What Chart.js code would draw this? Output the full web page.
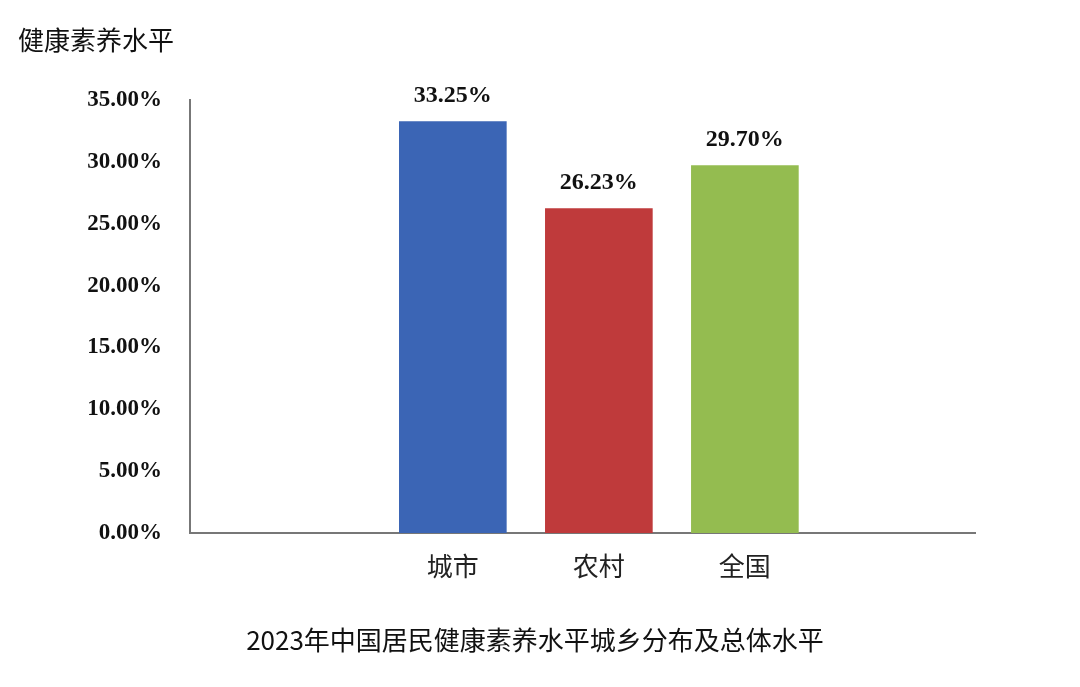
<!DOCTYPE html>
<html>
<head>
<meta charset="utf-8">
<script src="https://cdn.jsdelivr.net/npm/chart.js@4"></script>
<style>
  body { margin: 0; background: #fff; }
</style>
</head>
<body>
<canvas id="chart" width="1080" height="687"></canvas>
<script>
const categories = ["城市", "农村", "全国"];
const values = [33.25, 26.23, 29.70];
const barColors = ["#3b65b5", "#bf3a3b", "#94bc50"];
const yTicks = [0, 5, 10, 15, 20, 25, 30, 35];
const yTitle = "健康素养水平";
const chartTitle = "2023年中国居民健康素养水平城乡分布及总体水平";

const textPlugin = {
  id: "texts",
  afterDatasetsDraw(chart) {
    const ctx = chart.ctx;
    const meta = chart.getDatasetMeta(0);
    ctx.save();
    ctx.fillStyle = "#111";
    ctx.font = "bold 24px 'Liberation Serif', serif";
    ctx.textAlign = "center";
    ctx.textBaseline = "bottom";
    meta.data.forEach((bar, i) => {
      ctx.fillText(values[i].toFixed(2) + "%", bar.x, bar.y - 14);
    });
    ctx.font = "26px 'Noto Sans CJK SC', sans-serif";
    ctx.textAlign = "left";
    ctx.textBaseline = "middle";
    ctx.fillText(yTitle, 18, 40);
    ctx.textAlign = "center";
    ctx.fillText(chartTitle, 535, 640);
    ctx.restore();
  }
};

new Chart(document.getElementById("chart"), {
  type: "bar",
  data: {
    datasets: [{
      data: values.map((v, i) => ({ x: i + 1, y: v })),
      backgroundColor: barColors,
      borderWidth: 0,
      barThickness: 107
    }]
  },
  options: {
    responsive: false,
    animation: false,
    layout: { padding: { top: 100, bottom: 0, right: 105, left: 0 } },
    plugins: { legend: { display: false }, tooltip: { enabled: false } },
    scales: {
      x: {
        type: "linear",
        min: 0.096,
        max: 3.68,
        afterBuildTicks: axis => { axis.ticks = [1, 2, 3].map(v => ({ value: v })); },
        afterFit: axis => { axis.height = 154; },
        grid: { display: false, drawTicks: false },
        border: { color: "#777", width: 2 },
        ticks: {
          padding: 18,
          color: "#222",
          font: { size: 26, family: "'Noto Sans CJK SC', sans-serif" },
          callback: v => categories[v - 1] || ""
        }
      },
      y: {
        min: 0,
        max: 35,
        afterBuildTicks: axis => { axis.ticks = yTicks.map(v => ({ value: v })); },
        afterFit: axis => { axis.width = 190; },
        grid: { display: false, drawTicks: false },
        border: { color: "#777", width: 2 },
        ticks: {
          padding: 28,
          color: "#111",
          font: { size: 23, weight: "bold", family: "'Liberation Serif', serif" },
          callback: v => v.toFixed(2) + "%"
        }
      }
    }
  },
  plugins: [textPlugin]
});
</script>
</body>
</html>
